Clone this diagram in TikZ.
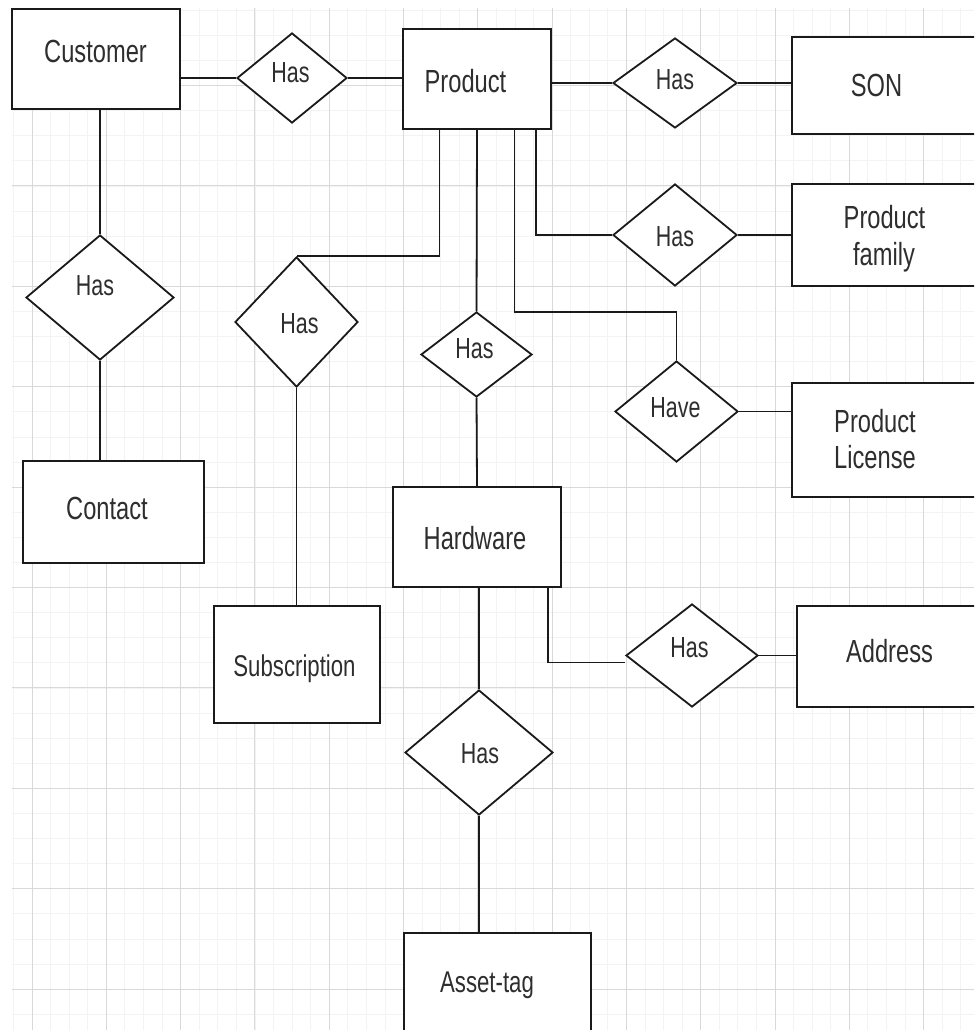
\documentclass[tikz,border=0pt]{standalone}
\usepackage{graphicx}
\usepackage{fontspec}
\setmainfont{Liberation Sans}
\usetikzlibrary{shapes.geometric}
\definecolor{ink}{HTML}{1A1A1A}
\definecolor{txt}{HTML}{2E2E2E}
\definecolor{gridmaj}{HTML}{D9D9D9}
\definecolor{gridmin}{HTML}{F3F3F3}
% narrow lettering used for every label
\newcommand{\sq}[1]{\scalebox{0.74}[1]{#1}}

\begin{document}
\begin{tikzpicture}[x=1pt,y=-1pt,
  ent/.style={draw=ink, line width=2pt, fill=white, rectangle, inner sep=0pt},
  rel/.style={draw=ink, line width=1.8pt, fill=white, diamond, inner sep=0pt},
  link/.style={draw=ink, line width=1.8pt},
  etext/.style={text=txt, font=\fontsize{32}{38}\selectfont, anchor=base, inner sep=0pt},
  rtext/.style={text=txt, font=\fontsize{29}{34}\selectfont, anchor=base, inner sep=0pt},
  minorline/.style={draw=gridmin, line width=0.8pt},
  majorline/.style={draw=gridmaj, line width=1pt},
]
\useasboundingbox (0,0) rectangle (974,1030);
\clip (0,0) rectangle (974,1030);
\fill[white] (0,0) rectangle (974,1030);

% background grid
\foreach \k in {-1,...,51} \draw[minorline] ({32+18.575*\k},8) -- ({32+18.575*\k},1030);
\foreach \k in {-3,...,37} \draw[minorline] (12,{85.5+25.1*\k}) -- (974,{85.5+25.1*\k});
\foreach \k in {0,...,12} \draw[majorline] ({32+74.3*\k},8) -- ({32+74.3*\k},1030);
\foreach \k in {0,...,9} \draw[majorline] (12,{85.5+100.4*\k}) -- (974,{85.5+100.4*\k});

% entities
\node[ent, minimum width=168pt, minimum height=100pt] (cust) at (96,59) {};
\node[ent, minimum width=148pt, minimum height=100pt] (prod) at (477,79) {};
\node[ent, minimum width=208pt, minimum height=97pt] (son) at (896,85.5) {};
\node[ent, minimum width=208pt, minimum height=102pt] (fam) at (896,235) {};
\node[ent, minimum width=208pt, minimum height=114pt] (lic) at (896,440) {};
\node[ent, minimum width=203pt, minimum height=101pt] (addr) at (898.5,656.5) {};
\node[ent, minimum width=168pt, minimum height=100pt] (hw) at (477,537) {};
\node[ent, minimum width=166.5pt, minimum height=117pt] (sub) at (296.75,664.5) {};
\node[ent, minimum width=181pt, minimum height=102pt] (cont) at (113.5,512) {};
\node[ent, minimum width=187pt, minimum height=117pt] (asset) at (497.5,991.5) {};

% relationships
\node[rel, minimum width=110pt, minimum height=90pt] (has1) at (292,78) {};
\node[rel, minimum width=124pt, minimum height=90pt] (has2) at (675,83) {};
\node[rel, minimum width=124pt, minimum height=102pt] (has3) at (675,235) {};
\node[rel, minimum width=123pt, minimum height=101pt] (have) at (676.5,411.5) {};
\node[rel, minimum width=111pt, minimum height=85pt] (has4) at (476.5,354.5) {};
\node[rel, minimum width=123pt, minimum height=130pt] (has5) at (296.5,322) {};
\node[rel, minimum width=148pt, minimum height=125pt] (has6) at (100,297.5) {};
\node[rel, minimum width=132pt, minimum height=103pt] (has7) at (692,655.5) {};
\node[rel, minimum width=148pt, minimum height=125pt] (has8) at (479,752.5) {};

% connectors
\draw[link] (has1.west -| cust.east) -- (has1.west);
\draw[link] (has1.east) -- (has1.east -| prod.west);
\draw[link] (has2.west -| prod.east) -- (has2.west);
\draw[link] (has2.east) -- (has2.east -| son.west);
\draw[link] ([xshift=59pt]prod.south) |- (has3.west);
\draw[link] (has3.east) -- (has3.east -| fam.west);
\draw[link] ([xshift=37.5pt]prod.south) -- ++(0,182) -| (have.north);
\draw[link] (have.east) -- (have.east -| lic.west);
\draw[link] (prod.south) -- (has4.north);
\draw[link] ([xshift=-37.5pt]prod.south) |- (has5.north);
\draw[link] (has4.south) -- (hw.north);
\draw[link] (has5.south) -- (has5.south |- sub.north);
\draw[link] (has6.north |- cust.south) -- (has6.north);
\draw[link] (has6.south) -- (has6.south |- cont.north);
\draw[link] ([xshift=71pt]hw.south) |- ([yshift=-7pt]has7.west);
\draw[link] (has7.east) -- (has7.east -| addr.west);
\draw[link] (hw.south -| has8.north) -- (has8.north);
\draw[link] (has8.south) -- (has8.south |- asset.north);

% labels
\node[etext] (tcust) at (95.5,63) {\sq{Customer}};
\node[rtext] (thas1) at (290.5,83) {\sq{Has}};
\node[etext] (tprod) at (465.5,93) {\sq{Product}};
\node[rtext] (thas2) at (675,90) {\sq{Has}};
\node[etext] (tson) at (876.5,97) {\sq{SON}};
\node[rtext] (thas3) at (675,246) {\sq{Has}};
\node[etext] (tfam1) at (884.5,228) {\sq{Product}};
\node[etext] (tfam2) at (884,265) {\sq{family}};
\node[rtext] (thave) at (675.5,417) {\sq{Have}};
\node[etext] (tlic1) at (875,432) {\sq{Product}};
\node[etext] (tlic2) at (875,468) {\sq{License}};
\node[rtext] (thas4) at (474.5,358) {\sq{Has}};
\node[rtext] (thas5) at (299.5,333) {\sq{Has}};
\node[rtext] (thas6) at (95,295) {\sq{Has}};
\node[etext] (tcont) at (107,519) {\sq{Contact}};
\node[etext] (thw) at (475,549) {\sq{Hardware}};
\node[etext, font=\fontsize{30}{36}\selectfont] (tsub) at (294.5,676) {\sq{Subscription}};
\node[rtext] (thas7) at (689.5,657) {\sq{Has}};
\node[etext] (taddr) at (889.5,662) {\sq{Address}};
\node[rtext] (thas8) at (480,763) {\sq{Has}};
\node[etext, font=\fontsize{30}{36}\selectfont] (tasset) at (487,992) {\sq{Asset-tag}};
\end{tikzpicture}
\end{document}
